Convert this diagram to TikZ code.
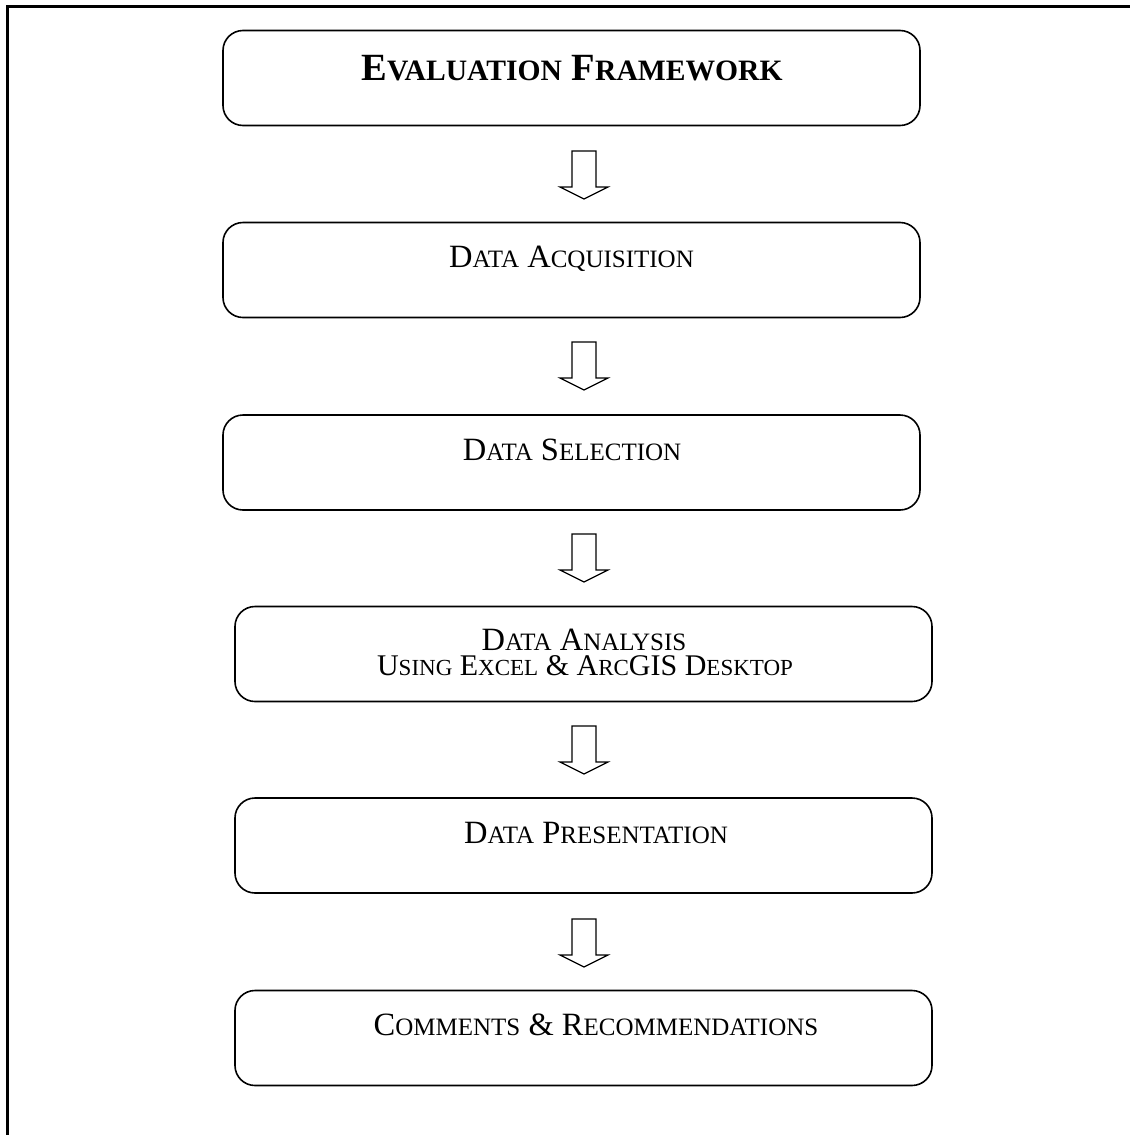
\documentclass[tikz,border=0pt]{standalone}
\usepackage{fontspec}
\setmainfont{Liberation Serif}
% synthetic small caps: full-size initials, reduced capitals for the rest
\newcommand\scr[1]{{\fontsize{25bp}{26bp}\selectfont #1}}
\newcommand\scs[1]{{\fontsize{23bp}{24bp}\selectfont #1}}
\newcommand\scb[1]{{\fontsize{29.6bp}{32bp}\selectfont #1}}
\tikzset{
  stagebox/.style={draw, line width=1.6bp, rounded corners=20bp, minimum width=697bp,
    minimum height=95bp, inner sep=0pt, outer sep=0pt},
  stagetext/.style={anchor=base, inner sep=0pt, align=center,
    font=\fontsize{32.5bp}{34bp}\selectfont},
  smalltext/.style={anchor=base, inner sep=0pt, align=center,
    font=\fontsize{30bp}{32bp}\selectfont},
  titletext/.style={anchor=base, inner sep=0pt, font=\fontsize{38.5bp}{40bp}\selectfont\bfseries},
  flowarrow/.style={draw, line width=1.2bp, line join=miter},
  downarr/.pic={
    \draw[flowarrow] (-12,0) -- (12,0) -- (12,36) -- (24,36) -- (0,48) -- (-24,36) -- (-12,36) -- cycle;
  }
}
\begin{document}
\begin{tikzpicture}[x=1bp, y=-1bp]
  \useasboundingbox (0,0) rectangle (1130,1135);
  % page frame (runs past the lower and right edges)
  \begin{scope}
    \clip (0,0) rectangle (1130,1135);
    \draw[line width=3bp] (7,1200) -- (7,6) -- (1200,6);
  \end{scope}

  % stages
  \node[stagebox] (b1) at (571.5,78) {};
  \node[stagebox] (b2) at (571.5,270) {};
  \node[stagebox] (b3) at (571.5,462.5) {};
  \node[stagebox] (b4) at (583.5,654) {};
  \node[stagebox] (b5) at (583.5,845.5) {};
  \node[stagebox] (b6) at (583.5,1038) {};

  \node[titletext] (t1) at (572,80) {E\scb{VALUATION} F\scb{RAMEWORK}};
  \node[stagetext] (t2) at (571.5,267) {D\scr{ATA} A\scr{CQUISITION}};
  \node[stagetext] (t3) at (572,460) {D\scr{ATA} S\scr{ELECTION}};
  \node[stagetext] (t4a) at (584,650) {D\scr{ATA} A\scr{NALYSIS}};
  \node[smalltext] (t4b) at (585,675) {U\scs{SING} E\scs{XCEL} \& A\scs{RC}GIS D\scs{ESKTOP}};
  \node[stagetext] (t5) at (596,843) {D\scr{ATA} P\scr{RESENTATION}};
  \node[stagetext] (t6) at (596,1035) {C\scr{OMMENTS} \& R\scr{ECOMMENDATIONS}};

  % block arrows between stages
  \pic at (584,151) {downarr};
  \pic at (584,342) {downarr};
  \pic at (584,534) {downarr};
  \pic at (584,726) {downarr};
  \pic at (584,919) {downarr};
\end{tikzpicture}
\end{document}
